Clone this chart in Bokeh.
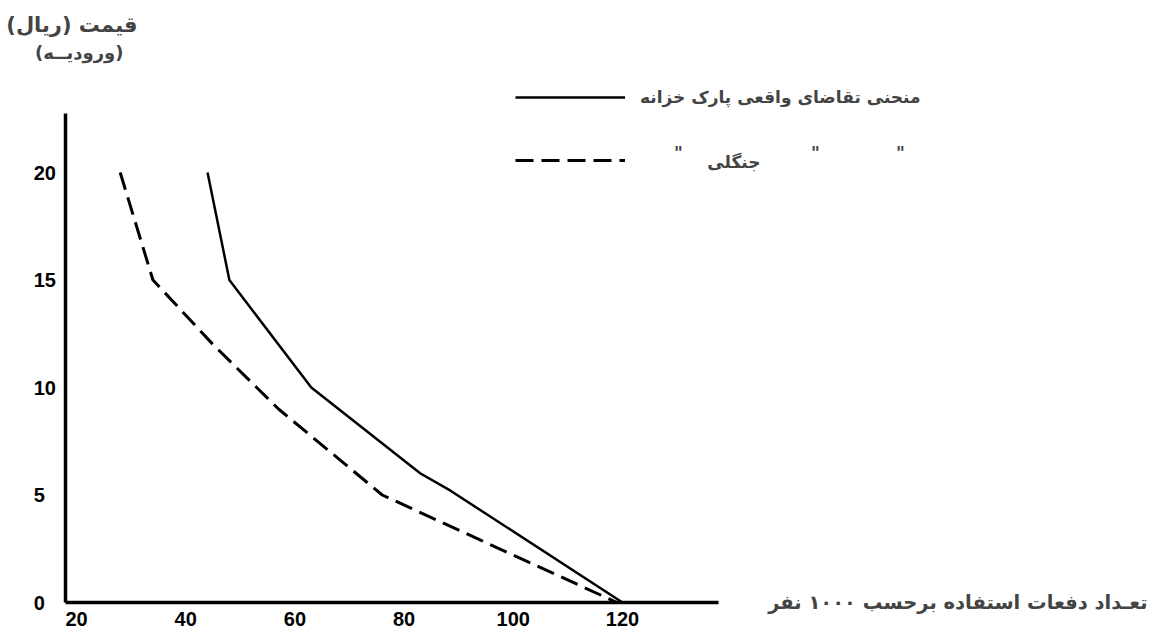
from bokeh.plotting import figure
from bokeh.models import Range1d, Label, Legend, LegendItem, FixedTicker
from bokeh.embed import file_html
from bokeh.resources import INLINE

# ---- data ----
park_visits = [44, 48, 63, 83, 88.5, 120]      # thousand persons
park_price = [20, 15, 10, 6, 5.2, 0]           # rial
forest_visits = [28, 34, 45, 57, 76, 94, 119]
forest_price = [20, 15, 12, 9, 5, 2.9, 0]

x_ticks = [20, 40, 60, 80, 100, 120]
y_ticks = [0, 5, 10, 15, 20]

park_label = "منحنی تقاضای واقعی پارک خزانه"
forest_label = "جنگلی"
ditto = '"'
RLM = "\u200f"
y_title_1 = RLM + "قیمت (ریال)" + RLM
y_title_2 = RLM + "(ورودیــه)" + RLM
x_title = RLM + "تعـداد دفعات استفاده برحسب ۱۰۰۰ نفر" + RLM

FA = "DejaVu Sans"
NUM = "Liberation Sans"

# pixel <-> data helpers for placing annotation text
def dx(px):
    return 20 + (px - 76) / 5.46

def dy(py):
    return (602 - py) / 21.5

W, H = 1150, 636
p = figure(width=W, height=H, output_backend="svg", toolbar_location=None,
           x_range=Range1d(dx(0), dx(W)), y_range=Range1d(dy(H), dy(0)),
           min_border_left=0, min_border_right=0, min_border_top=0, min_border_bottom=0)
p.outline_line_color = None
p.grid.visible = False
p.background_fill_color = "white"

solid = p.line(park_visits, park_price, line_color="black", line_width=2.5)
dashed = p.line(forest_visits, forest_price, line_color="black", line_width=3, line_dash="18 8")

for ax in (p.xaxis[0], p.yaxis[0]):
    ax.axis_line_width = 3.5
    ax.axis_line_color = "black"
    ax.major_tick_line_color = None
    ax.minor_tick_line_color = None
    ax.major_tick_out = 0
    ax.major_tick_in = 0
    ax.major_label_text_font = NUM
    ax.major_label_text_font_style = "bold"
    ax.major_label_text_font_size = "20px"
    ax.major_label_text_color = "black"

x0 = dx(64.5)
p.xaxis.ticker = FixedTicker(ticks=x_ticks)
p.yaxis.ticker = FixedTicker(ticks=y_ticks)
p.yaxis.major_label_overrides = {0: "0\u2007", 5: "5\u2007"}
p.xaxis.fixed_location = 0
p.yaxis.fixed_location = x0
p.xaxis.bounds = (x0, 137.6)
p.yaxis.bounds = (0, 22.74)
p.xaxis.major_label_standoff = 9
p.yaxis.major_label_standoff = 9

legend = Legend(items=[LegendItem(label=park_label, renderers=[solid]),
                       LegendItem(label=" ", renderers=[dashed])],
                location=(515, H - 172), orientation="vertical",
                glyph_width=110, glyph_height=24, label_height=24,
                label_standoff=15, spacing=39, padding=0, margin=0,
                label_text_font=FA, label_text_font_style="bold",
                label_text_font_size="17px",
                background_fill_alpha=0, border_line_alpha=0)
p.add_layout(legend, "center")

# second legend row: ditto marks and the word "forest"
for qx in [678, 815, 900]:
    p.add_layout(Label(x=dx(qx), y=dy(152), text=ditto,
                       text_align="center", text_baseline="middle",
                       text_font=FA, text_font_style="bold", text_font_size="17px"))
p.add_layout(Label(x=dx(760), y=dy(161), text=forest_label,
                   text_align="right", text_baseline="middle",
                   text_font=FA, text_font_style="bold", text_font_size="17px"))

p.add_layout(Label(x=dx(137), y=dy(24), text=y_title_1,
                   text_align="right", text_baseline="middle",
                   text_font=FA, text_font_style="bold", text_font_size="21px"))
p.add_layout(Label(x=dx(123), y=dy(52), text=y_title_2,
                   text_align="right", text_baseline="middle",
                   text_font=FA, text_font_style="bold", text_font_size="18px"))
p.add_layout(Label(x=dx(1147), y=dy(602), text=x_title,
                   text_align="right", text_baseline="middle",
                   text_font=FA, text_font_style="bold", text_font_size="19.5px"))

open("out.html", "w").write(file_html(p, INLINE))
